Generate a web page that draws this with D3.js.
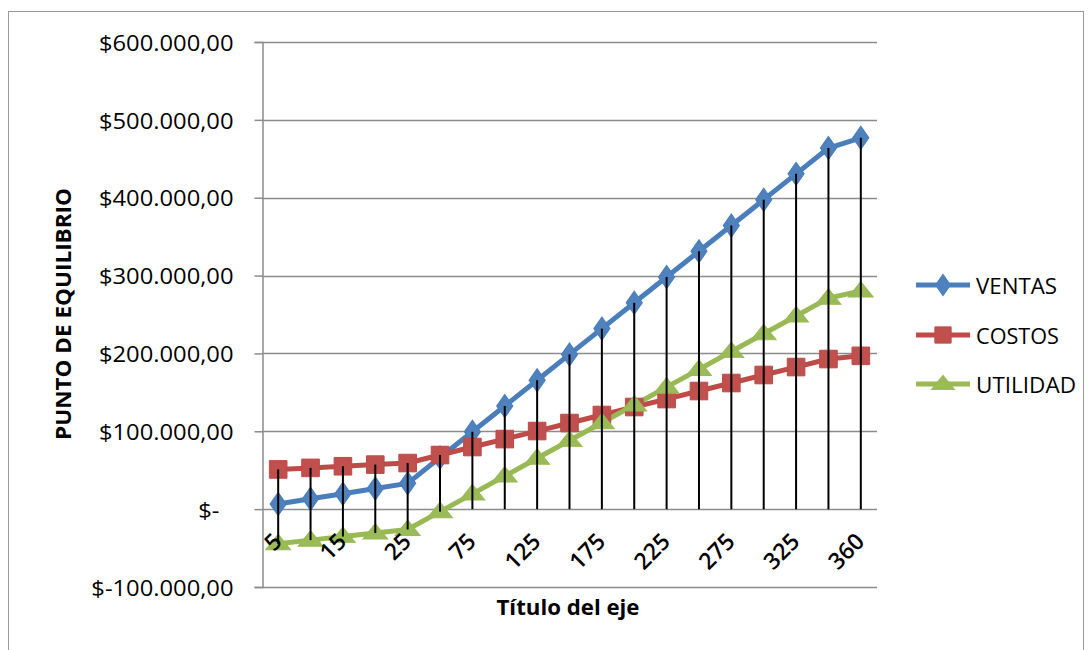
<!DOCTYPE html>
<html>
<head>
<meta charset="utf-8">
<script src="https://cdn.jsdelivr.net/npm/d3@7"></script>
<style>
  html, body { margin: 0; padding: 0; background: #fff; }
  svg { display: block; }
  text { font-family: "Open Sans", "Noto Sans", sans-serif; fill: #000; }
</style>
</head>
<body>
<svg id="chart" width="1092" height="650"></svg>
<script>
// ---- data ----
const categories = ["5","10","15","20","25","50","75","100","125","150","175","200","225","250","275","300","325","350","360"];
const tickLabels = ["5","15","25","75","125","175","225","275","325","360"];
const yTicks = [-100000, 0, 100000, 200000, 300000, 400000, 500000, 600000];
const ventas   = [6625, 13250, 19875, 26500, 33125, 66250, 99375, 132500, 165625, 198750, 231875, 265000, 298125, 331250, 364375, 397500, 430625, 463750, 477000];
const costos   = [51000, 53000, 55100, 57200, 59200, 69500, 79800, 90000, 100300, 110600, 120900, 131200, 141400, 151700, 162000, 172300, 182500, 192800, 196900];
const utilidad = [-44400, -39800, -35200, -30700, -26100, -3200, 19600, 42500, 65300, 88100, 111000, 133800, 156700, 179500, 202400, 225200, 248100, 271000, 280100];
const seriesNames = ["VENTAS", "COSTOS", "UTILIDAD"];
const seriesColors = ["#4A7EBB", "#BE4B48", "#98B954"];
const markerColors = ["#4F81BD", "#C0504D", "#9BBB59"];
const yTitle = "PUNTO DE EQUILIBRIO";
const xTitle = "Título del eje";

const series = [ventas, costos, utilidad];

const svg = d3.select("#chart");

// outer chart border
svg.append("rect")
  .attr("x", 8.5).attr("y", 11.5).attr("width", 1075).attr("height", 660)
  .attr("fill", "none").attr("stroke", "#9a9a9a").attr("stroke-width", 1);

const plot = { left: 262, right: 877, top: 42, bottom: 587 };

const x = d3.scaleBand().domain(categories).range([plot.left, plot.right]).padding(0);
const cx = c => x(c) + x.bandwidth() / 2;
const y = d3.scaleLinear().domain([-100000, 600000]).range([plot.bottom, plot.top]);

const locale = d3.formatLocale({ decimal: ",", thousands: ".", grouping: [3], currency: ["$", ""], minus: "-" });
const f = locale.format(",.2f");
const fmt = v => v === 0 ? "$-" : "$" + f(v);

// gridlines
svg.append("g").selectAll("line").data(yTicks).join("line")
  .attr("x1", plot.left).attr("x2", plot.right)
  .attr("y1", d => Math.round(y(d)) + 0.5).attr("y2", d => Math.round(y(d)) + 0.5)
  .attr("stroke", "#8c8c8c").attr("stroke-width", 1.5);

// y axis
const yAxis = svg.append("g")
  .attr("transform", `translate(${plot.left + 0.5},0)`)
  .call(d3.axisLeft(y).tickValues(yTicks).tickSize(8).tickPadding(0).tickFormat(fmt));
yAxis.select(".domain").attr("stroke", "#8c8c8c").attr("stroke-width", 1.5);
yAxis.selectAll(".tick line").attr("stroke", "#8c8c8c").attr("stroke-width", 1.5);
yAxis.selectAll(".tick text")
  .attr("x", null).attr("dy", null)
  .style("font-family", "'Open Sans', sans-serif")
  .style("font-size", "22px")
  .attr("text-anchor", "end")
  .attr("dominant-baseline", "central")
  .each(function(d) {
    const t = d3.select(this);
    const sx = 1.08;
    const xr = d === 0 ? -43 : -29;
    t.attr("transform", `translate(${xr},0) scale(${sx},1)`);
  });

// series lines
const line = d3.line().x((d, i) => cx(categories[i])).y(d => y(d));
series.forEach((s, k) => {
  svg.append("path").datum(s)
    .attr("d", line)
    .attr("fill", "none")
    .attr("stroke", seriesColors[k])
    .attr("stroke-width", 5)
    .attr("stroke-linejoin", "round");
});

// markers
const symbols = [d3.symbolDiamond, d3.symbolSquare, d3.symbolTriangle];
const symSizes = [170, 310, 170];
function drawMarker(g, k, px, py, s) {
  s = s || 1;
  g.append("path")
    .attr("d", d3.symbol().type(symbols[k]).size(symSizes[k] * s)())
    .attr("transform", `translate(${px},${py})` + (k === 0 ? " scale(1.15,0.95)" : (k === 2 ? " scale(1.25,0.9) translate(0,1)" : "")))
    .attr("fill", markerColors[k])
    .attr("stroke", seriesColors[k])
    .attr("stroke-width", 1);
}
const mg = svg.append("g");
series.forEach((s, k) => {
  s.forEach((v, i) => drawMarker(mg, k, cx(categories[i]), y(v)));
});

// drop lines (from highest point down to the axis / lowest negative point)
svg.append("g").selectAll("line").data(categories).join("line")
  .attr("x1", c => cx(c)).attr("x2", c => cx(c))
  .attr("y1", (c, i) => y(Math.max(0, ventas[i], costos[i], utilidad[i])))
  .attr("y2", (c, i) => y(Math.min(0, ventas[i], costos[i], utilidad[i])))
  .attr("stroke", "#000").attr("stroke-width", 2);

// x tick labels (rotated)
svg.append("g").selectAll("text").data(tickLabels).join("text")
  .attr("transform", d => `translate(${cx(d) + 5},543) rotate(-45)`)
  .attr("text-anchor", "end")
  .style("font-size", "23px")
  .style("font-weight", "600")
  .text(d => d);

// axis titles
svg.append("text")
  .attr("transform", "translate(71,314) rotate(-90)")
  .attr("text-anchor", "middle")
  .style("font-size", "21px").style("font-weight", "700")
  .attr("textLength", 252).attr("lengthAdjust", "spacingAndGlyphs")
  .text(yTitle);

svg.append("text")
  .attr("x", 568).attr("y", 615)
  .attr("text-anchor", "middle")
  .style("font-size", "21px").style("font-weight", "700")
  .attr("textLength", 143).attr("lengthAdjust", "spacingAndGlyphs")
  .text(xTitle);

// legend
const legY = [285, 335, 384];
const legW = [81, 83, 100];
const lg = svg.append("g");
seriesNames.forEach((name, k) => {
  lg.append("line")
    .attr("x1", 916).attr("x2", 970).attr("y1", legY[k]).attr("y2", legY[k])
    .attr("stroke", seriesColors[k]).attr("stroke-width", 5);
  drawMarker(lg, k, 943, legY[k], 0.85);
  lg.append("text")
    .attr("x", 976).attr("y", legY[k])
    .attr("dominant-baseline", "central")
    .style("font-size", "22px")
    .attr("textLength", legW[k]).attr("lengthAdjust", "spacingAndGlyphs")
    .text(name);
});
</script>
</body>
</html>
